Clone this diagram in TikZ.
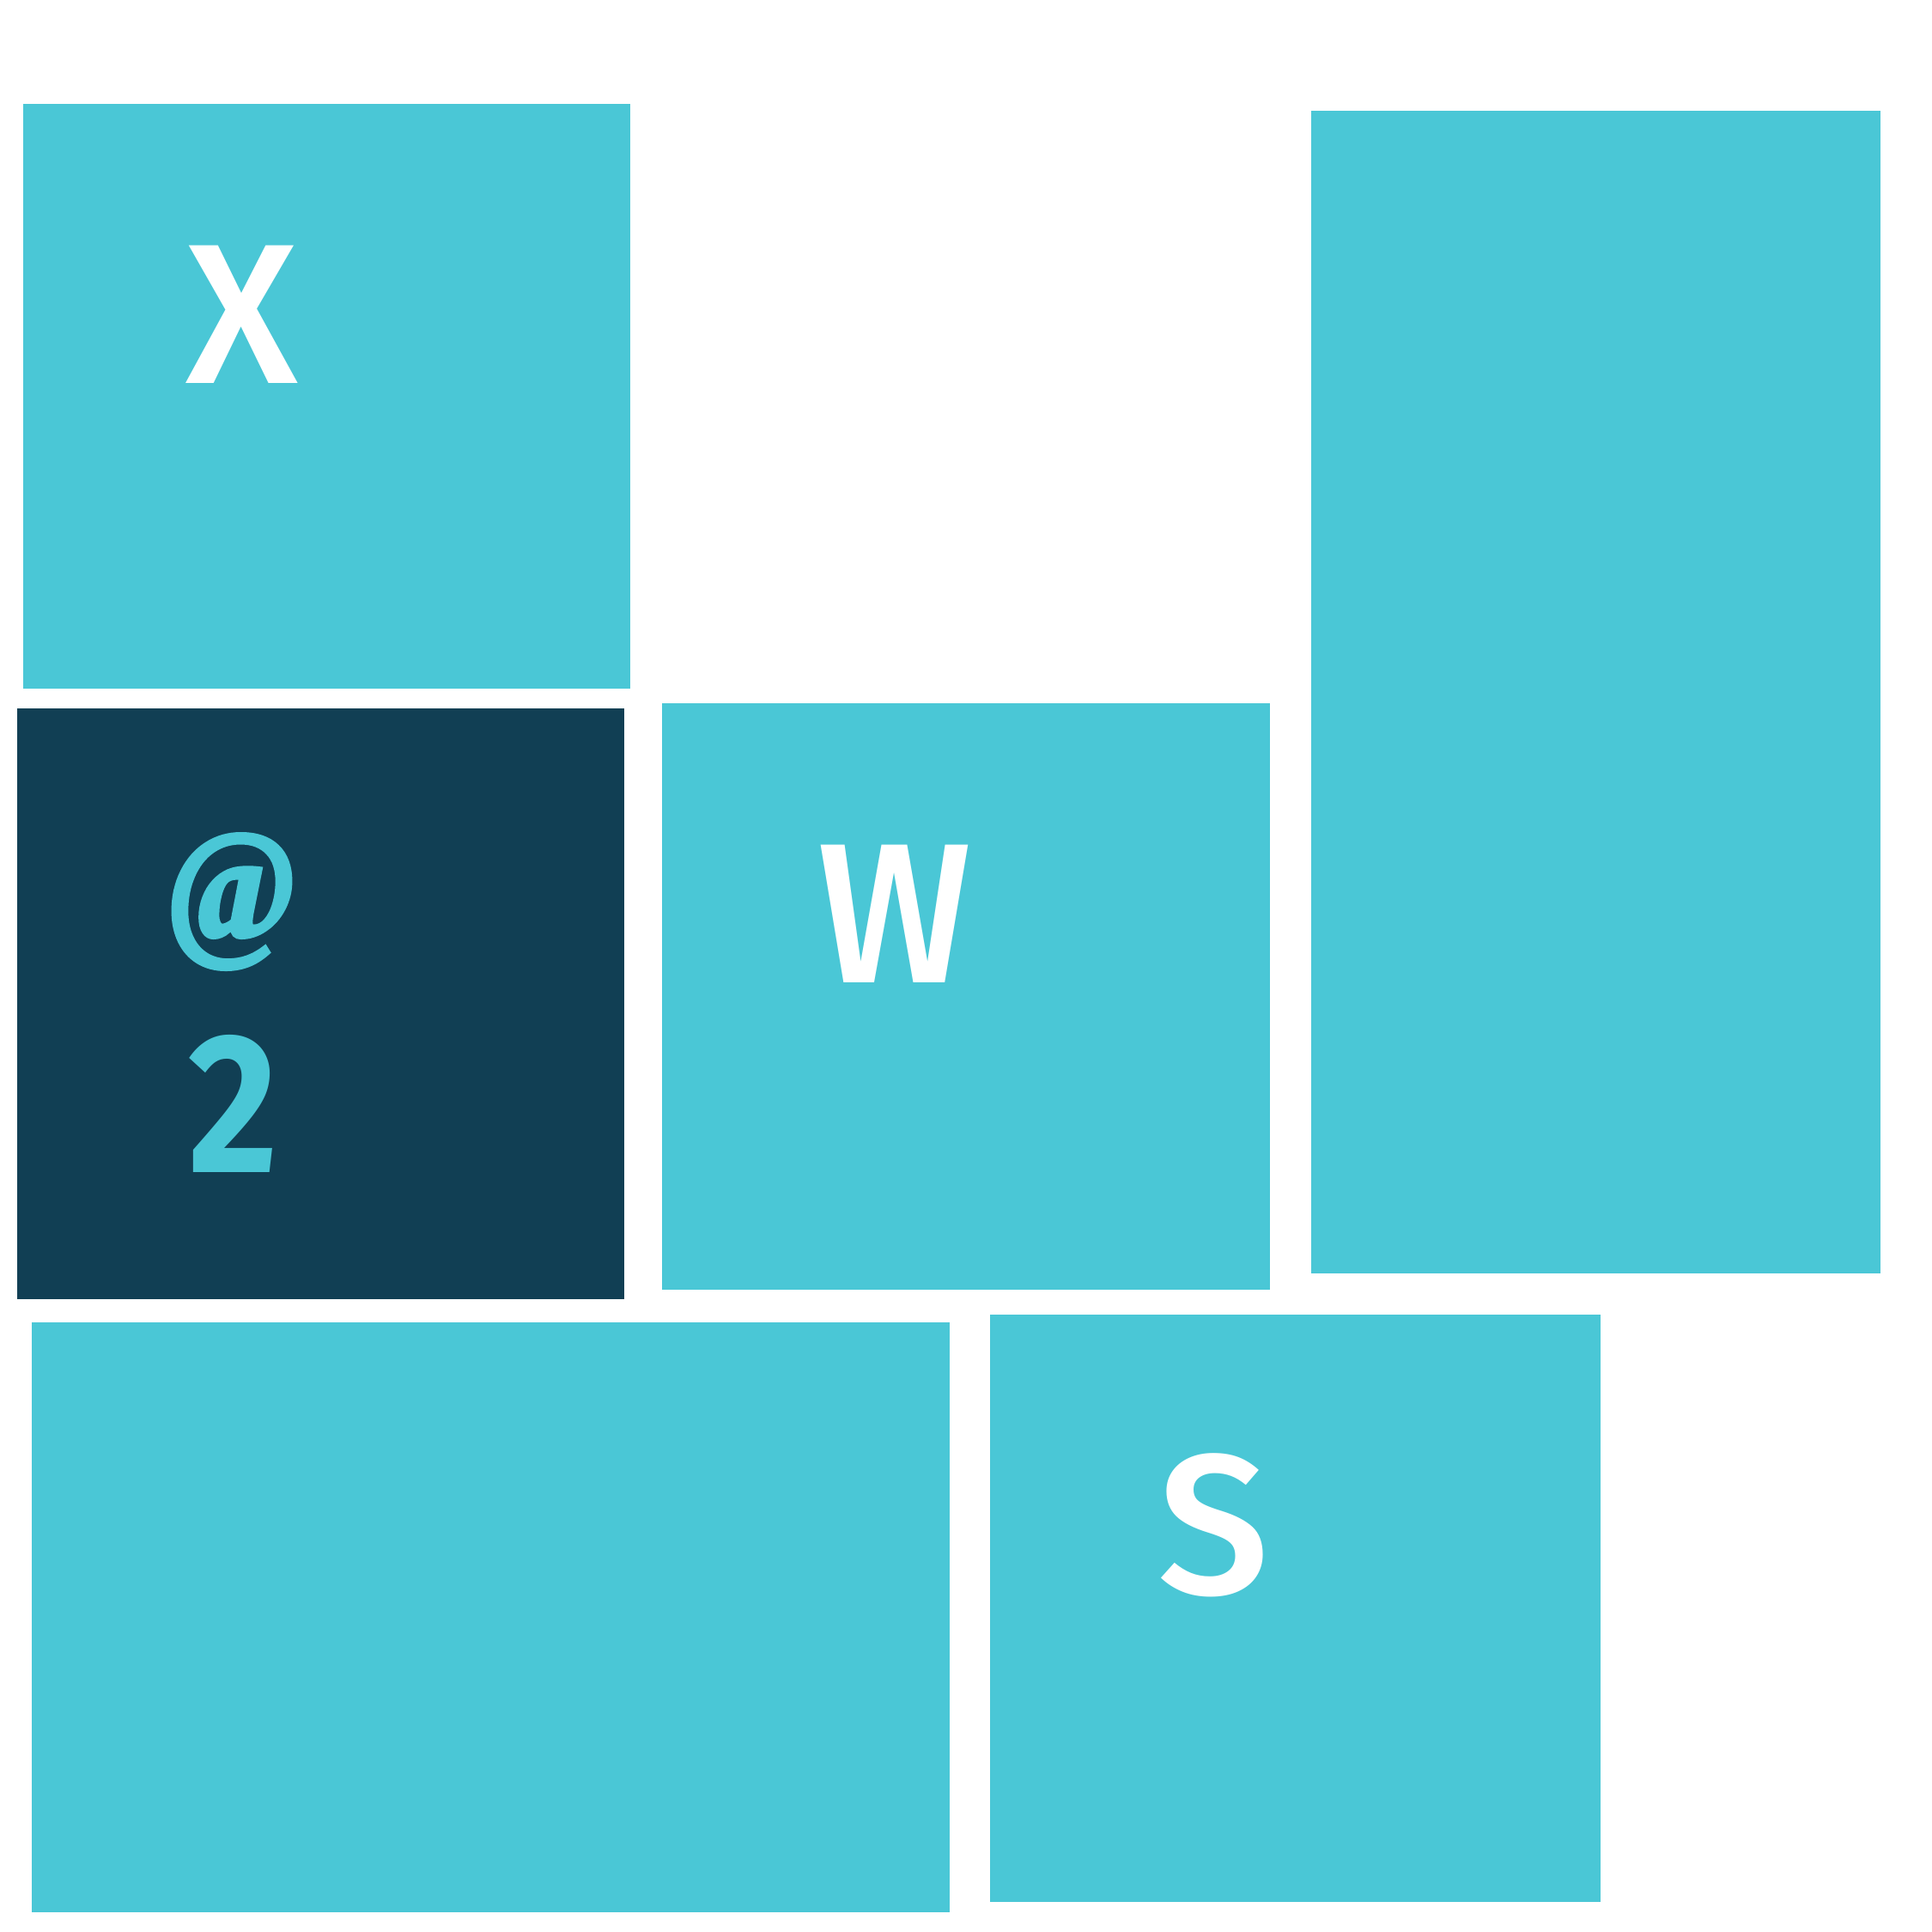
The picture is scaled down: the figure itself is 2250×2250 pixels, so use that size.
\documentclass[tikz,border=0pt]{standalone}
\usepackage{fontspec}
\setmainfont{Fira Sans Medium}
\newfontfamily\atfont{Liberation Serif}[FakeBold=3]
\newfontfamily\twofont{Fira Sans}
\definecolor{tealbox}{RGB}{74,199,214}
\definecolor{navybox}{RGB}{17,63,84}
\begin{document}
\begin{tikzpicture}[x=0.01cm,y=-0.01cm,
  tile/.style={rectangle,inner sep=0pt,outer sep=0pt,draw=none,fill=tealbox},
  darktile/.style={tile,fill=navybox},
  lbl/.style={inner sep=0pt,outer sep=0pt,text=white,font=\fontsize{66}{72}\selectfont,anchor=base west},
  dlbl/.style={lbl,text=tealbox}]
\useasboundingbox[fill=white] (0,0) rectangle (2250,2250);
\node[tile,minimum width=7.07cm,minimum height=6.81cm] (xbox) at (380.5,461.5) {};
\node[tile,minimum width=6.63cm,minimum height=13.54cm] (tall) at (1858.5,806) {};
\node[darktile,minimum width=7.066cm,minimum height=6.88cm] (dark) at (373.7,1169) {};
\node[tile,minimum width=7.08cm,minimum height=6.83cm] (wbox) at (1125,1160.5) {};
\node[tile,minimum width=10.684cm,minimum height=6.87cm] (wide) at (571.8,1883.5) {};
\node[tile,minimum width=7.10cm,minimum height=6.83cm] (sbox) at (1508.5,1873) {};
\node[lbl] (xl) at (216,446) {X};
\node[lbl,xscale=0.92] (wl) at (952,1144) {W};
\node[lbl] (sl) at (1348,1856) {S};
\node[dlbl,anchor=center,xscale=0.9,font=\atfont\bfseries\fontsize{52}{60}\selectfont] (at) at (270,1050) {@};
\node[dlbl,xscale=0.87,font=\twofont\bfseries\fontsize{66}{72}\selectfont] (two) at (219,1365) {2};
\end{tikzpicture}
\end{document}
